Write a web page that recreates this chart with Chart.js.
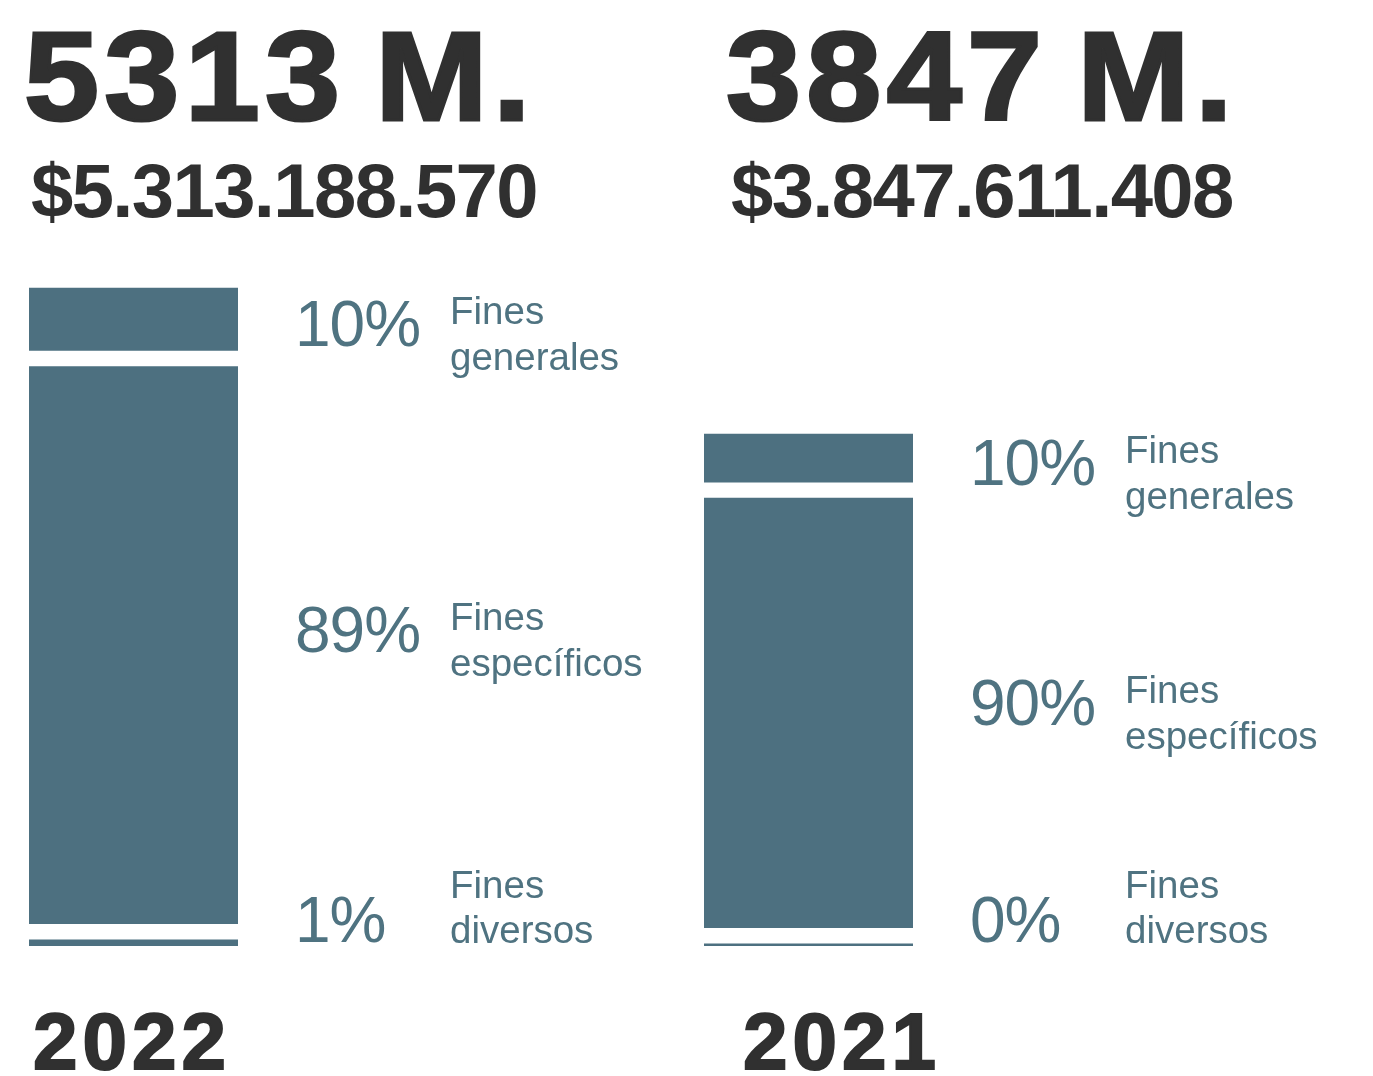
<!DOCTYPE html>
<html lang="es">
<head>
<meta charset="utf-8">
<script src="https://cdn.jsdelivr.net/npm/chart.js@4"></script>
<style>
  body { margin: 0; background: #fff; width: 1373px; height: 1076px; position: relative; overflow: hidden;
         font-family: "Liberation Sans", Arial, Helvetica, sans-serif; color: #303030; }
  .big { position: absolute; top: 14px; font-size: 126px; font-weight: bold; line-height: 1; letter-spacing: 5px;
         word-spacing: -12px; -webkit-text-stroke: 3px #303030; white-space: nowrap;
         transform: scaleX(1.07); transform-origin: left top; }
  .exact { position: absolute; top: 153px; font-size: 76px; font-weight: bold; line-height: 1; letter-spacing: -1.6px; white-space: nowrap; }
  .year { position: absolute; top: 1002px; font-size: 80px; font-weight: bold; line-height: 1; letter-spacing: 5px;
          -webkit-text-stroke: 2px #303030; white-space: nowrap; }
  canvas { position: absolute; top: 270px; }
</style>
</head>
<body>
<div class="big" id="big0" style="left:24px"></div>
<div class="exact" id="exact0" style="left:31px"></div>
<div class="big" id="big1" style="left:726px"></div>
<div class="exact" id="exact1" style="left:731px"></div>
<canvas id="chart0" width="686" height="680" style="left:0px"></canvas>
<canvas id="chart1" width="686" height="680" style="left:675px"></canvas>
<div class="year" id="year0" style="left:33px"></div>
<div class="year" id="year1" style="left:743px"></div>

<script>
// datos (millones de pesos), de abajo hacia arriba en cada barra
const years = ['2022', '2021'];
const totals = [5313188570, 3847611408];
const categories = ['Fines diversos', 'Fines específicos', 'Fines generales'];
const diversos = [53, 18];
const especificos = [4729, 3444];
const generales = [531, 385];

const BAR_COLOR = '#4d7080';
const LABEL_COLOR = '#4f7381';
const GAP = 16;
const scaleMax = [5737, 5418];

const fmt = n => '$' + String(n).replace(/\B(?=(\d{3})+(?!\d))/g, '.');

// separa los segmentos apilados con un espacio blanco
const gapPlugin = {
  id: 'segmentGaps',
  afterDatasetsUpdate(chart) {
    chart.data.datasets.forEach((ds, i) => {
      chart.getDatasetMeta(i).data.forEach(el => {
        el.y -= i * GAP;
        el.base -= i * GAP;
      });
    });
  }
};

const labelPlugin = {
  id: 'segmentLabels',
  afterDatasetsDraw(chart, args, opts) {
    const { ctx, chartArea } = chart;
    ctx.save();
    ctx.fillStyle = LABEL_COLOR;
    ctx.textBaseline = 'alphabetic';
    chart.data.datasets.forEach((ds, i) => {
      const el = chart.getDatasetMeta(i).data[0];
      const h = Math.abs(el.base - el.y);
      const c = (el.y + el.base) / 2 + 5 - 0.04 * h;
      const pct = Math.round(ds.data[0] / opts.total * 100) + '%';
      let pctBase, line1, line2;
      if (c > chartArea.bottom - 30) {
        pctBase = chartArea.bottom - 4;
        line2 = chartArea.bottom - 3;
        line1 = line2 - 45;
      } else {
        pctBase = c + 24;
        line1 = c + 2;
        line2 = c + 48;
      }
      ctx.font = '64px "Liberation Sans", Arial, sans-serif';
      ctx.letterSpacing = '-1px';
      ctx.fillText(pct, chartArea.right + 57, pctBase);
      ctx.font = '38.5px "Liberation Sans", Arial, sans-serif';
      ctx.letterSpacing = '0px';
      const words = ds.label.split(' ');
      ctx.fillText(words[0], chartArea.right + 212, line1);
      ctx.fillText(words.slice(1).join(' '), chartArea.right + 212, line2);
    });
    ctx.restore();
  }
};

years.forEach((year, idx) => {
  document.getElementById('big' + idx).textContent = Math.floor(totals[idx] / 1e6) + ' M.';
  document.getElementById('exact' + idx).textContent = fmt(totals[idx]);
  document.getElementById('year' + idx).textContent = year;

  const series = [diversos, especificos, generales];
  new Chart(document.getElementById('chart' + idx), {
    type: 'bar',
    data: {
      labels: [year],
      datasets: categories.map((name, i) => ({
        label: name,
        data: [series[i][idx]],
        backgroundColor: BAR_COLOR,
        borderWidth: 0,
        barPercentage: 1,
        categoryPercentage: 1
      }))
    },
    options: {
      responsive: false,
      animation: false,
      layout: { padding: { left: 29, right: 448, top: 0, bottom: 4 } },
      scales: {
        x: { display: false, stacked: true },
        y: { display: false, stacked: true, min: 0, max: scaleMax[idx] }
      },
      plugins: {
        legend: { display: false },
        tooltip: { enabled: false },
        segmentLabels: { total: totals[idx] / 1e6 }
      }
    },
    plugins: [gapPlugin, labelPlugin]
  });
});
</script>
</body>
</html>
